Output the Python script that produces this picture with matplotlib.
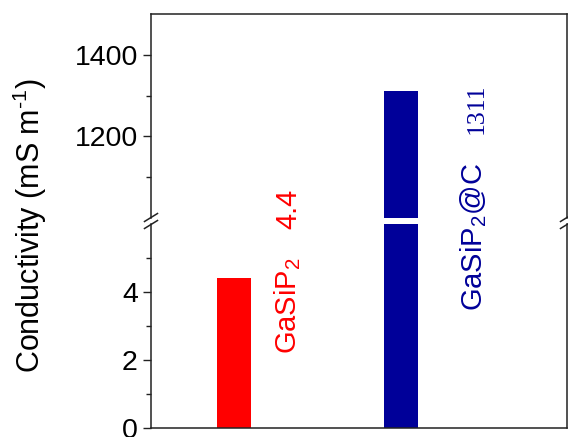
import matplotlib
matplotlib.use("Agg")
import matplotlib.pyplot as plt
from matplotlib.lines import Line2D

plt.rcParams['font.family'] = ['Liberation Sans', 'DejaVu Sans']
plt.rcParams['mathtext.default'] = 'regular'

# ---- data ----
categories = ["GaSiP$_2$", "GaSiP$_2$@C"]
values = [4.4, 1311]
value_labels = ["4.4", "1311"]
bar_colors = ["#FF0000", "#000099"]
x_pos = [1, 2]
low_ticks = [0, 2, 4]
low_minor = [1, 3, 5]
high_ticks = [1200, 1400]
high_minor = [1100, 1300]

W, H = 568, 437
fig = plt.figure(figsize=(W / 100, H / 100), dpi=100)

L, R = 151 / W, 567 / W
ax_top = fig.add_axes([L, 1 - 218 / H, R - L, (218 - 14) / H])
ax_bot = fig.add_axes([L, 1 - 428 / H, R - L, (428 - 224) / H])

for ax in (ax_top, ax_bot):
    ax.bar(x_pos, values, width=0.205, color=bar_colors)
    ax.set_xlim(0.5, 3.0)
    ax.set_xticks([])
    for s in ax.spines.values():
        s.set_linewidth(1.1)
        s.set_color('#222222')
    ax.tick_params(axis='y', which='major', direction='out', length=5.5,
                   width=1.0, labelsize=20.5, pad=4, colors='#222222')
    ax.tick_params(axis='y', which='minor', direction='out', length=3.5,
                   width=1.0, colors='#222222')
    ax.tick_params(axis='y', labelcolor='black')

ax_top.set_ylim(1000, 1500)
ax_top.set_yticks(high_ticks)
ax_top.set_yticks(high_minor, minor=True)
ax_top.spines['bottom'].set_visible(False)

ax_bot.set_ylim(0, 6)
ax_bot.set_yticks(low_ticks)
ax_bot.set_yticks(low_minor, minor=True)
ax_bot.spines['top'].set_visible(False)

# break marks
def px(x, y):
    return x / W, 1 - y / H

for xc in (151, 567):
    for yc in (217.5, 224.5):
        x0, y0 = px(xc - 6.5, yc + 4)
        x1, y1 = px(xc + 6.5, yc - 4)
        fig.add_artist(Line2D([x0, x1], [y0, y1], color='#222222', lw=1.1))

# annotations
ax_bot.text(1.371, 2.18, categories[0], rotation=90, rotation_mode='anchor',
            ha='left', va='baseline', color=bar_colors[0], fontsize=21)
ax_bot.text(1.371, 5.85, value_labels[0], rotation=90, rotation_mode='anchor',
            ha='left', va='baseline', color=bar_colors[0], fontsize=21,
            clip_on=False)
ax_bot.text(2.489, 3.43, categories[1], rotation=90, rotation_mode='anchor',
            ha='left', va='baseline', color=bar_colors[1], fontsize=21,
            clip_on=False)
ax_top.text(2.495, 1207, value_labels[1], rotation=90, rotation_mode='anchor',
            ha='left', va='baseline', color=bar_colors[1], fontsize=18.5,
            family=['Liberation Serif', 'DejaVu Serif'])

fig.text(40 / W, 1 - 226 / H, "Conductivity (mS m$^{\u20101}$)", rotation=90,
         rotation_mode='anchor', ha='center', va='baseline', fontsize=22)

fig.savefig("out.png", dpi=100)
